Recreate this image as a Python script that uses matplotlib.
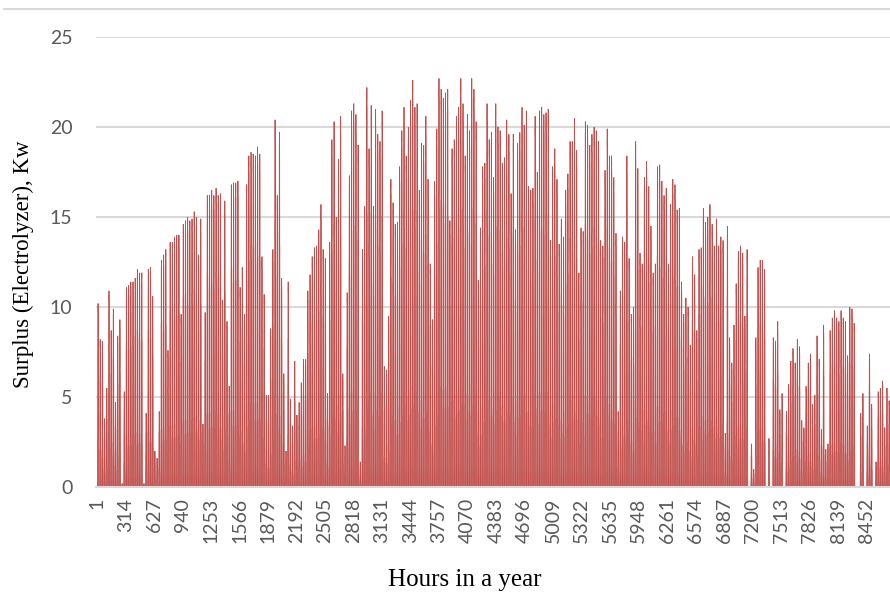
import matplotlib.pyplot as plt
import matplotlib as mpl
import numpy as np

mpl.rcParams['font.family'] = "Lato"

# peak surplus of each day (kW), day 1 .. day 365
daily_peak = [
    10.2, 8.2, 8.1, 3.8, 5.5, 10.9, 8.7, 9.9, 4.7, 8.4,
    9.3, 0.2, 5.3, 11.1, 11.2, 11.4, 11.4, 11.6, 12.1, 11.9,
    11.9, 0.2, 4.1, 12.1, 12.2, 10.6, 2.0, 1.6, 4.2, 12.6,
    12.9, 13.2, 7.6, 13.6, 13.6, 13.9, 14.0, 14.0, 9.6, 14.6,
    14.8, 15.0, 14.8, 14.9, 15.3, 15.0, 12.9, 14.9, 3.5, 9.7,
    16.2, 16.2, 16.5, 16.2, 16.6, 16.2, 16.3, 10.4, 15.9, 9.2,
    5.6, 16.8, 16.9, 16.9, 17.0, 11.1, 12.2, 9.6, 16.8, 18.4,
    18.6, 18.5, 18.4, 18.9, 18.5, 12.8, 10.7, 5.1, 5.1, 8.8,
    13.2, 20.4, 16.2, 19.7, 11.6, 6.3, 2.0, 11.4, 4.9, 3.4,
    7.0, 4.0, 4.7, 5.8, 7.1, 7.1, 10.9, 11.8, 12.8, 13.3,
    13.4, 14.3, 15.7, 13.2, 12.7, 5.2, 13.6, 19.3, 20.3, 15.0,
    18.2, 20.6, 6.3, 2.3, 10.8, 17.3, 20.9, 21.3, 20.7, 19.0,
    1.4, 13.2, 15.6, 22.2, 18.8, 21.2, 15.6, 21.0, 19.6, 19.2,
    20.9, 6.7, 6.5, 9.5, 17.1, 15.8, 14.6, 14.7, 17.8, 19.8,
    21.1, 18.4, 20.0, 21.5, 22.6, 21.1, 21.3, 16.5, 19.1, 19.0,
    20.6, 17.1, 12.4, 9.3, 17.0, 19.9, 22.7, 22.1, 21.6, 21.9,
    22.1, 14.8, 18.8, 19.3, 20.6, 21.1, 22.7, 21.3, 18.4, 20.7,
    19.8, 22.7, 22.1, 20.3, 11.5, 14.4, 17.8, 18.0, 21.3, 19.3,
    19.7, 17.2, 21.3, 20.0, 19.8, 18.0, 18.3, 20.4, 19.6, 16.3,
    19.6, 14.3, 19.1, 19.7, 21.1, 20.1, 20.9, 16.7, 16.5, 16.6,
    20.6, 17.5, 20.9, 21.1, 20.7, 20.8, 21.0, 13.7, 17.8, 18.8,
    17.1, 13.5, 14.9, 13.9, 16.5, 17.4, 19.2, 19.2, 20.5, 18.7,
    11.9, 14.4, 14.2, 20.3, 20.1, 19.0, 19.6, 20.0, 19.8, 19.2,
    13.7, 13.4, 17.6, 19.9, 18.4, 18.4, 17.2, 14.1, 4.2, 10.9,
    13.9,
    13.6, 18.4, 12.7, 9.6, 10.0, 19.2, 17.7, 13.0, 12.4, 17.2,
    18.1, 16.7, 14.5, 11.9, 12.4, 17.8, 17.9, 17.0, 16.2, 16.6,
    12.4, 15.7, 17.1, 16.8, 15.4, 15.5, 11.4, 9.6, 10.5, 10.0,
    7.9, 12.8, 11.8, 8.7, 13.2, 13.3, 15.5, 14.7, 15.0, 15.7,
    14.6, 13.4, 14.9, 13.4, 13.9, 13.7, 3.0, 14.5, 8.3, 6.9,
    9.0, 11.3, 13.1, 13.4, 13.0, 9.5, 13.2, 0.0, 2.4, 1.0,
    8.3, 12.2, 12.6, 12.6, 12.1, 0.0, 2.7, 0.0, 8.3, 8.1,
    9.2, 4.3, 5.2, 0.0, 4.2, 5.7, 7.0, 7.7, 6.9, 8.2,
    7.8, 3.7, 3.3, 5.6, 6.9, 7.4, 4.6, 5.1, 8.4, 7.1,
    3.2, 9.0, 2.1, 2.4, 8.7, 9.4, 9.8, 9.4, 9.2, 9.8,
    9.4, 9.2, 7.3, 10.0, 9.9, 9.1, 0.0, 0.0, 4.1, 5.2,
    0.0, 3.4, 7.4, 4.6, 0.0, 1.4, 5.3, 5.5, 5.9, 3.3,
    5.5, 4.8, 6.0, 3.9,
]

# typical share of the daily peak for each hour of the day
hourly_shape = [0, 0, 0, 0, 0, 0, 0.05, 0.25, 0.5, 0.72, 0.88, 0.97,
                1.0, 0.95, 0.85, 0.68, 0.45, 0.2, 0.04, 0, 0, 0, 0, 0]

tick_step = 313

surplus = np.outer(daily_peak, hourly_shape).ravel()
hours = np.arange(len(surplus))
edges = np.arange(len(surplus) + 1) - 0.5

red = '#C0504D'
grid_grey = '#D9D9D9'
text_grey = '#595959'

fig = plt.figure(figsize=(8.9, 6.05), dpi=100)
ax = fig.add_axes([96/890, 1 - 487/605, 1 - 96/890, (487 - 37)/605])

ax.stairs(surplus, edges, fill=True, color=red, linewidth=0)
ax.stairs(surplus, edges, fill=False, color=red, linewidth=0.6, baseline=0)

ax.set_ylim(0, 25)
ax.set_xlim(-11, 8709)
ax.set_yticks(np.arange(0, 26, 5))
ax.set_xticks(hours[::tick_step])
ax.set_xticklabels([str(h + 1) for h in hours[::tick_step]], rotation=90)

ax.grid(axis='y', color=grid_grey, linewidth=1.5)
ax.set_axisbelow(True)
for s in ['top', 'right', 'left']:
    ax.spines[s].set_visible(False)
ax.spines['bottom'].set_color(grid_grey)
ax.spines['bottom'].set_linewidth(1.5)
ax.tick_params(axis='both', length=0, labelsize=14, labelcolor=text_grey)
ax.tick_params(axis='y', pad=17)
ax.tick_params(axis='x', pad=8)

fig.text(465/890, 1 - 580/605, 'Hours in a year', family='Liberation Serif',
         fontsize=18, ha='center', va='center')
fig.text(23/890, 1 - 264/605, 'Surplus (Electrolyzer), Kw', family='Liberation Serif',
         fontsize=16.5, ha='center', va='center', rotation=90)

# thin frame line along the top of the chart area
fig.add_artist(plt.Line2D([4/890, 1], [1 - 9/605, 1 - 9/605], color=grid_grey, linewidth=1.5))

fig.savefig('out.png', dpi=100)
